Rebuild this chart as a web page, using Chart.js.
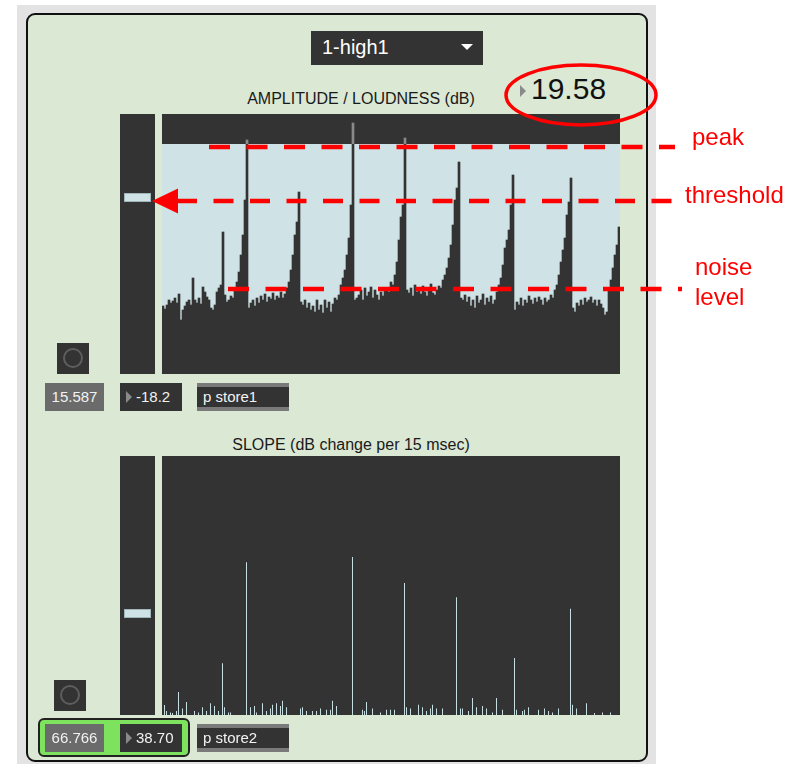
<!DOCTYPE html>
<html>
<head>
<meta charset="utf-8">
<title>amplitude / slope</title>
<script src="https://cdn.jsdelivr.net/npm/chart.js@4.4.0/dist/chart.umd.min.js"></script>
<style>
  body { margin: 0; background: #fff; font-family: "Liberation Sans", Arial, sans-serif; }
  #stage { position: relative; width: 794px; height: 764px; overflow: hidden; }
  #stage div, #stage canvas { position: absolute; box-sizing: border-box; }
  .dark { background: #333; }
  .title { font-size: 16px; color: #1a1a1a; white-space: nowrap; transform: translateX(-50%); }
  .box { height: 28px; font-size: 15px; line-height: 28px; color: #f2f2f2; white-space: nowrap; }
  .gray { background: #6b6b6b; text-align: center; }
  .tri { width: 0; height: 0; border-top: 6px solid transparent; border-bottom: 6px solid transparent; border-left: 6px solid #8a8a8a; }
  .store { background: #333; border-top: 4px solid #7a7a7a; border-bottom: 4px solid #7a7a7a; line-height: 20px; padding-left: 6px; }
  .toggle { width: 32px; height: 31px; background: #333; }
  .toggle span { position: absolute; left: 6px; top: 5px; width: 20px; height: 20px; border: 2px solid #5e5e5e; border-radius: 50%; box-sizing: border-box; }
  .marker { background: #cfe3e6; border: 1px solid #9fb6ba; }
  svg { position: absolute; left: 0; top: 0; }
</style>
</head>
<body>
<div id="stage">
  <div style="left:17px;top:5px;width:639px;height:759px;background:#e3e3e3"></div>
  <div style="left:26px;top:13px;width:622px;height:749px;background:#dbe8d4;border:2px solid #111;border-radius:9px"></div>

  <!-- preset menu -->
  <div class="dark" style="left:311px;top:31px;width:172px;height:34px"></div>
  <div style="left:322px;top:36px;font-size:20px;color:#fff">1-high1</div>
  <div style="left:461px;top:44px;width:0;height:0;border-left:6px solid transparent;border-right:6px solid transparent;border-top:6px solid #fff"></div>

  <!-- peak readout -->
  <div class="tri" style="left:520px;top:85px"></div>
  <div style="left:531px;top:72px;font-size:30px;color:#111">19.58</div>

  <div class="title" style="left:361px;top:90px">AMPLITUDE / LOUDNESS (dB)</div>
  <div class="dark" style="left:120px;top:114px;width:35px;height:260px"></div>
  <div class="marker" style="left:124px;top:193px;width:27px;height:9px"></div>
  <canvas id="ampChart" width="458" height="260" style="left:162px;top:114px"></canvas>

  <div class="toggle" style="left:57px;top:343px"><span></span></div>
  <div class="box gray" style="left:45px;top:383px;width:59px">15.587</div>
  <div class="box dark" style="left:120px;top:383px;width:62px"></div>
  <div class="tri" style="left:126px;top:391px"></div>
  <div class="box" style="left:136px;top:383px">-18.2</div>
  <div class="box store" style="left:197px;top:383px;width:92px">p store1</div>

  <div class="title" style="left:351px;top:436px">SLOPE (dB change per 15 msec)</div>
  <div class="dark" style="left:120px;top:456px;width:35px;height:259px"></div>
  <div class="marker" style="left:124px;top:609px;width:27px;height:9px"></div>
  <div class="dark" style="left:162px;top:456px;width:458px;height:259px"></div>
  <canvas id="slopeChart" width="459" height="259" style="left:161px;top:456px"></canvas>

  <div class="toggle" style="left:54px;top:680px"><span></span></div>
  <div style="left:38px;top:718px;width:152px;height:39px;background:#7de35e;border:2px solid #222;border-radius:6px"></div>
  <div class="box gray" style="left:45px;top:724px;width:59px">66.766</div>
  <div class="box dark" style="left:120px;top:724px;width:62px"></div>
  <div class="tri" style="left:126px;top:732px"></div>
  <div class="box" style="left:136px;top:724px">38.70</div>
  <div class="box store" style="left:197px;top:724px;width:92px">p store2</div>

  <!-- red annotations -->
  <svg width="794" height="764">
    <ellipse cx="581" cy="95" rx="75" ry="30" fill="none" stroke="#ff0000" stroke-width="3.5"/>
    <line x1="209" y1="147" x2="675" y2="147" stroke="#ff0000" stroke-width="4.5" stroke-dasharray="21 16.5"/>
    <polygon points="152,201 178,188.5 178,213.5" fill="#ff0000"/>
    <line x1="177" y1="201" x2="675" y2="201" stroke="#ff0000" stroke-width="4.5" stroke-dasharray="20 16.5"/>
    <line x1="228" y1="289" x2="682" y2="289" stroke="#ff0000" stroke-width="4.5" stroke-dasharray="21 16.5"/>
    <g fill="#ff0000" font-family="Liberation Sans, Arial, sans-serif" font-size="24">
      <text x="692" y="145">peak</text>
      <text x="685" y="203">threshold</text>
      <text x="695" y="275">noise</text>
      <text x="695" y="305">level</text>
    </g>
  </svg>
</div>

<script>
// amplitude per frame (dB)
const amplitude = [
  -38.4, -39.0, -38.2, -37.2, -37.8, -37.4, -36.8, -37.8, -36.0, -41.2,
  -39.2, -38.4, -37.6, -37.2, -38.2, -32.8, -37.2, -37.8, -36.8, -38.0,
  -34.6, -35.6, -36.6, -37.2, -38.8, -39.2, -38.2, -35.6, -34.8, -34.2,
  -23.6, -36.2, -37.6, -37.2, -36.4, -36.8, -35.2, -33.6, -31.6, -28.2,
  -24.2, -17.2, -5.2, -38.8, -37.8, -37.2, -38.4, -36.8, -37.8, -36.4,
  -37.2, -36.0, -37.6, -36.6, -37.0, -35.8, -37.2, -36.4, -36.8, -35.6,
  -36.8, -36.0, -34.8, -33.6, -31.2, -28.2, -24.2, -21.6, -15.6, -37.6,
  -38.2, -37.2, -38.8, -37.8, -39.2, -38.4, -39.6, -37.2, -39.2, -38.2,
  -39.8, -37.2, -38.8, -37.6, -39.6, -38.0, -36.8, -37.2, -36.2, -34.2,
  -32.8, -31.2, -28.2, -24.8, -18.2, -1.8, -37.2, -36.8, -36.2, -35.2,
  -37.2, -34.8, -36.4, -35.6, -34.6, -36.8, -35.2, -36.2, -37.2, -35.6,
  -36.4, -35.2, -34.8, -35.6, -33.6, -34.2, -32.2, -29.6, -25.2, -20.6,
  -18.2, -4.8, -35.2, -35.8, -34.8, -36.4, -34.2, -35.6, -34.8, -36.0,
  -34.4, -35.6, -36.4, -35.2, -34.0, -35.8, -36.2, -35.2, -34.4, -34.8,
  -33.2, -32.2, -30.8, -28.8, -26.2, -22.2, -17.2, -14.8, -9.6, -36.8,
  -37.2, -36.2, -37.6, -36.6, -38.4, -37.2, -38.8, -36.4, -37.8, -37.2,
  -36.0, -38.2, -36.8, -37.6, -36.4, -38.0, -37.2, -35.6, -34.2, -32.8,
  -30.2, -26.8, -25.2, -23.2, -18.2, -12.2, -39.2, -37.6, -38.2, -36.8,
  -38.4, -37.2, -37.8, -36.4, -37.2, -38.0, -36.8, -37.6, -36.6, -37.2,
  -38.2, -36.8, -37.6, -37.2, -36.2, -36.8, -35.2, -34.2, -32.2, -29.6,
  -27.2, -24.8, -20.2, -17.6, -12.8, -38.8, -39.6, -37.8, -38.4, -37.2,
  -38.2, -36.8, -37.6, -37.2, -36.6, -37.8, -37.2, -38.4, -37.2, -38.0,
  -38.8, -40.2, -39.6, -35.2, -33.2, -30.8, -28.2, -26.2, -22.6
];

// slope per frame (dB change per 15 msec)
const slope = [
  0, 3.9, 1.5, 0, 1.0, 0.8, 0, 1.5, 8.9, 0,
  2.5, 0, 5.0, 0, 0, 0, 1.5, 0, 1.0, 0,
  3.0, 0, 1.5, 0, 4.5, 0, 3.5, 0, 1.5, 0,
  20.0, 3.0, 0, 1.0, 1.0, 0, 0, 0, 0, 0,
  0, 0, 59.0, 0, 3.0, 0, 3.5, 1.0, 0, 0,
  4.5, 0, 1.5, 0, 2.5, 4.0, 0, 4.5, 0, 3.5,
  5.5, 0, 3.0, 0, 0, 0, 0, 0, 0, 2.5,
  3.0, 0, 1.5, 0, 0, 1.5, 0, 1.5, 0, 2.5,
  0, 0, 2.0, 0, 2.0, 5.5, 0, 3.5, 0, 0,
  0, 0, 0, 0, 0, 61.0, 0, 0, 0, 0,
  2.0, 1.5, 5.0, 0, 0, 2.5, 0, 0, 0, 1.0,
  0, 0, 2.0, 0, 2.0, 0, 2.0, 0, 0, 0,
  0, 51.0, 3.0, 0, 2.5, 0, 0, 0, 4.0, 0,
  3.0, 0, 1.5, 0, 2.5, 4.0, 0, 2.5, 0, 0,
  2.5, 0, 0, 0, 0, 0, 0, 45.5, 0, 2.5,
  2.5, 0, 0, 1.5, 0, 6.6, 0, 3.0, 0, 0,
  3.5, 0, 2.5, 0, 0, 1.0, 0, 6.6, 0, 0,
  2.0, 0, 0, 0, 0, 0, 22.0, 2.0, 0, 0,
  1.5, 2.0, 0, 3.0, 0, 0, 0, 0, 2.0, 0,
  0, 2.5, 0, 1.5, 0, 1.0, 0, 0, 2.5, 0,
  0, 0, 0, 0, 41.0, 4.0, 0, 2.5, 0, 0,
  0, 0, 4.5, 0, 0, 0, 0.8, 0, 0, 0,
  1.0, 0, 0, 0, 1.0, 0, 0, 0, 0
];

const frames = amplitude.map((v, i) => i + 1);

const AMP_MIN = -52;
const AMP_MAX = 0;
const AMP_WINDOW = -6;   // top of the light display window
const SLOPE_MAX = 100;

document.addEventListener("DOMContentLoaded", () => {
    // dark box with the light blue window below AMP_WINDOW
    const meterBackground = {
        id: 'meterBackground',
        beforeDraw(chart) {
            const { ctx, chartArea } = chart;
            const top = chart.scales.y.getPixelForValue(AMP_WINDOW);
            ctx.save();
            ctx.fillStyle = '#333333';
            ctx.fillRect(chartArea.left, chartArea.top, chartArea.width, chartArea.height);
            ctx.fillStyle = '#cfe3e6';
            ctx.fillRect(chartArea.left, top, chartArea.width, chartArea.bottom - top);
            ctx.restore();
        }
    };

    // bars show grey above the window, dark inside it
    const ampBarColor = (c) => {
        const chart = c.chart;
        const area = chart.chartArea;
        if (!area) return '#333333';
        const t = (chart.scales.y.getPixelForValue(AMP_WINDOW) - area.top) / area.height;
        const g = chart.ctx.createLinearGradient(0, area.top, 0, area.bottom);
        g.addColorStop(0, '#8a8a8a');
        g.addColorStop(t, '#8a8a8a');
        g.addColorStop(t, '#333333');
        g.addColorStop(1, '#333333');
        return g;
    };

    const ctx = document.getElementById('ampChart').getContext('2d');
    const ampChart = new Chart(ctx, {
        type: 'bar',
        data: {
            labels: frames,
            datasets: [{
                data: amplitude,
                base: AMP_MIN,
                backgroundColor: ampBarColor,
                borderWidth: 0,
                categoryPercentage: 1,
                barPercentage: 1
            }]
        },
        options: {
            responsive: false,
            animation: false,
            events: [],
            layout: { padding: 0 },
            plugins: {
                legend: { display: false },
                tooltip: { enabled: false }
            },
            scales: {
                x: { display: false },
                y: { display: false, min: AMP_MIN, max: AMP_MAX }
            }
        },
        plugins: [meterBackground]
    });

    const ctx2 = document.getElementById('slopeChart').getContext('2d');
    const slopeChart = new Chart(ctx2, {
        type: 'bar',
        data: {
            labels: frames,
            datasets: [{
                data: slope,
                backgroundColor: '#c6dde1',
                borderWidth: 0,
                categoryPercentage: 1,
                barPercentage: 0.5
            }]
        },
        options: {
            responsive: false,
            animation: false,
            events: [],
            layout: { padding: { left: 0.5, right: 0.5, top: 0, bottom: 0 } },
            plugins: {
                legend: { display: false },
                tooltip: { enabled: false }
            },
            scales: {
                x: { display: false },
                y: { display: false, min: 0, max: SLOPE_MAX }
            }
        }
    });
});
</script>
</body>
</html>
